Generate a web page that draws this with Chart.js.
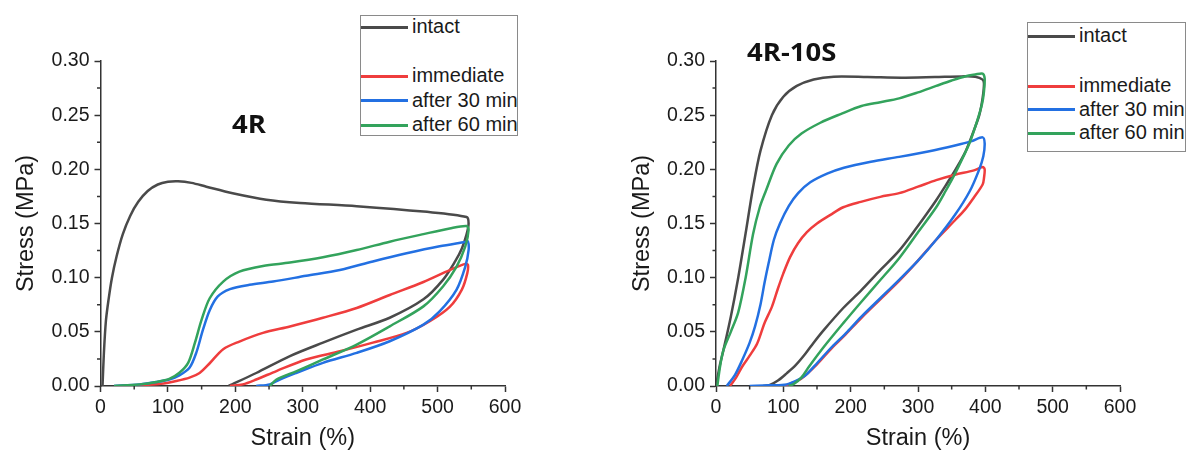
<!DOCTYPE html>
<html>
<head>
<meta charset="utf-8">
<script src="https://cdn.jsdelivr.net/npm/chart.js@4.4.1/dist/chart.umd.min.js"></script>
<style>
html,body{margin:0;padding:0;background:#fff;}
#wrap{position:relative;width:1186px;height:450px;overflow:hidden;font-family:"Liberation Sans",Arial,sans-serif;}
canvas{position:absolute;top:0;}
.ptitle{position:absolute;font-family:"Open Sans",sans-serif;font-weight:700;font-size:25px;line-height:1;color:#111;transform:scaleX(1.1);transform-origin:left top;white-space:nowrap;}
.legend{position:absolute;border:1px solid #8a8a8a;background:#fff;box-sizing:border-box;overflow:hidden;}
.row{position:absolute;left:0;height:0;width:100%;}
.row .ln{position:absolute;left:0;width:47px;height:3px;top:-1.5px;}
.row .tx{position:absolute;left:51px;top:-13px;font-size:20px;line-height:24px;white-space:nowrap;color:#1a1a1a;}
</style>
</head>
<body>
<div id="wrap">
  <canvas id="c1" width="593" height="450" style="left:0px"></canvas>
  <canvas id="c2" width="593" height="450" style="left:593px"></canvas>
  <div class="ptitle" style="left:232px;top:111px">4R</div>
  <div class="ptitle" style="left:747px;top:39px">4R-10S</div>
  <div class="legend" id="lg1" style="left:360px;top:15px;width:158px;height:121px"></div>
  <div class="legend" id="lg2" style="left:1027px;top:22px;width:159px;height:130px"></div>
</div>
<script>
// ---------- labels / ticks ----------
const seriesNames  = ["intact", "immediate", "after 30 min", "after 60 min"];
const seriesColors = ["#4a4a4a", "#ef3d3d", "#2370e2", "#33a35c"];
const panelTitles  = ["4R", "4R-10S"];
const xTicks = [0, 100, 200, 300, 400, 500, 600];
const yTicks = [0.00, 0.05, 0.10, 0.15, 0.20, 0.25, 0.30];
const xMinor = [50, 150, 250, 350, 450, 550];
const yMinor = [0.025, 0.075, 0.125, 0.175, 0.225, 0.275];

// ---------- panel 4R ----------
const r4_intact_x = [3, 5, 8, 12, 17, 24, 33, 44, 56, 70, 85, 100, 115, 135, 157, 196, 246, 296, 380, 479, 543, 546, 543, 536, 526, 508, 479, 429, 380, 330, 281, 231, 190];
const r4_intact_y = [0, 0.03, 0.06, 0.08, 0.10, 0.12, 0.14, 0.157, 0.170, 0.180, 0.186, 0.1885, 0.189, 0.1875, 0.184, 0.178, 0.172, 0.169, 0.166, 0.161, 0.156, 0.150, 0.140, 0.127, 0.115, 0.098, 0.080, 0.063, 0.052, 0.040, 0.0276, 0.012, 0];
const r4_imm_x = [30, 60, 90, 112, 132, 147, 162, 182, 206, 241, 281, 330, 380, 429, 479, 518, 541, 545, 544, 536, 518, 489, 454, 404, 355, 305, 261, 231, 211, 192];
const r4_imm_y = [0, 0.0008, 0.002, 0.0046, 0.0077, 0.012, 0.021, 0.034, 0.041, 0.049, 0.055, 0.063, 0.072, 0.084, 0.096, 0.107, 0.1127, 0.112, 0.104, 0.089, 0.073, 0.060, 0.049, 0.040, 0.032, 0.0245, 0.0138, 0.006, 0.0015, 0];
const r4_a30_x = [20, 58, 83, 102, 117, 132, 142, 152, 162, 174, 192, 221, 256, 305, 355, 404, 454, 503, 541, 545, 546, 541, 528, 503, 479, 429, 380, 330, 291, 266, 251, 231];
const r4_a30_y = [0, 0.0015, 0.0037, 0.006, 0.0098, 0.0168, 0.0306, 0.052, 0.070, 0.0827, 0.0894, 0.0934, 0.0964, 0.1017, 0.107, 0.115, 0.1225, 0.129, 0.133, 0.1335, 0.1255, 0.110, 0.0888, 0.0689, 0.0566, 0.0413, 0.0306, 0.0214, 0.0122, 0.006, 0.0015, 0];
const r4_a60_x = [20, 58, 83, 102, 117, 130, 140, 150, 162, 182, 206, 241, 281, 330, 380, 429, 479, 518, 543, 546, 541, 528, 508, 479, 429, 380, 330, 291, 261, 251];
const r4_a60_y = [0, 0.0015, 0.0037, 0.0065, 0.0122, 0.0214, 0.0398, 0.0612, 0.081, 0.0964, 0.1056, 0.1108, 0.1139, 0.1188, 0.1255, 0.1332, 0.1402, 0.1454, 0.1476, 0.144, 0.1286, 0.110, 0.0919, 0.0735, 0.0551, 0.0383, 0.0245, 0.0138, 0.006, 0];

// ---------- panel 4R-10S ----------
const s10_intact_x = [0, 6, 11, 22, 33, 44, 55, 66, 83, 100, 120, 145, 175, 225, 275, 325, 365, 385, 396, 398, 396, 391, 383, 371, 355, 341, 327, 313, 299, 272, 244, 216, 189, 160, 145, 133, 118, 105, 92, 80, 70];
const s10_intact_y = [0, 0.02, 0.033, 0.064, 0.100, 0.141, 0.183, 0.217, 0.250, 0.267, 0.277, 0.283, 0.2855, 0.2852, 0.2846, 0.2852, 0.2858, 0.2855, 0.2828, 0.279, 0.266, 0.250, 0.236, 0.217, 0.199, 0.185, 0.1715, 0.159, 0.147, 0.125, 0.107, 0.0885, 0.072, 0.0516, 0.040, 0.030, 0.019, 0.0117, 0.005, 0.001, 0];
const s10_imm_x = [21, 30, 39, 50, 61, 72, 83, 92, 100, 110, 122, 135, 150, 170, 189, 215, 244, 272, 300, 327, 355, 383, 396, 399, 398, 396, 383, 370, 355, 327, 299, 272, 244, 216, 190, 172, 150, 127, 110, 100];
const s10_imm_y = [0, 0.008, 0.018, 0.028, 0.039, 0.058, 0.073, 0.09, 0.104, 0.119, 0.132, 0.142, 0.150, 0.158, 0.165, 0.170, 0.1746, 0.178, 0.184, 0.190, 0.195, 0.199, 0.2022, 0.2, 0.192, 0.186, 0.174, 0.163, 0.153, 0.135, 0.115, 0.097, 0.080, 0.063, 0.046, 0.035, 0.020, 0.007, 0.002, 0];
const s10_a30_x = [16, 28, 39, 50, 58, 66, 72, 78, 86, 95, 108, 122, 140, 165, 190, 230, 272, 315, 355, 380, 396, 399, 397, 391, 377, 355, 327, 299, 272, 244, 216, 195, 172, 150, 135, 127, 105, 80, 50];
const s10_a30_y = [0, 0.010, 0.024, 0.040, 0.055, 0.075, 0.095, 0.113, 0.135, 0.150, 0.166, 0.178, 0.188, 0.196, 0.2015, 0.207, 0.2115, 0.2165, 0.222, 0.226, 0.2295, 0.224, 0.212, 0.2, 0.18, 0.158, 0.135, 0.115, 0.098, 0.081, 0.064, 0.050, 0.036, 0.021, 0.011, 0.0074, 0.0015, 0.0006, 0];
const s10_a60_x = [2, 6, 11, 22, 33, 44, 55, 65, 74, 90, 108, 127, 155, 185, 216, 244, 272, 300, 327, 350, 371, 385, 396, 399, 398, 395, 388, 377, 366, 355, 341, 327, 299, 272, 244, 216, 189, 160, 138, 127, 116, 108];
const s10_a60_y = [0, 0.018, 0.033, 0.050, 0.068, 0.100, 0.140, 0.165, 0.180, 0.205, 0.222, 0.233, 0.243, 0.251, 0.2585, 0.262, 0.2655, 0.271, 0.277, 0.282, 0.286, 0.2875, 0.2884, 0.284, 0.272, 0.260, 0.245, 0.225, 0.210, 0.196, 0.180, 0.165, 0.141, 0.118, 0.0978, 0.0778, 0.058, 0.036, 0.0178, 0.008, 0.002, 0];

function pts(xs, ys){ return xs.map((x,i)=>({x:x, y:ys[i]})); }

const FONT = '"Liberation Sans", Arial, sans-serif';
Chart.defaults.font.family = FONT;
Chart.defaults.color = '#1a1a1a';

const minorTicks = {
  id: 'minorTicks',
  afterDraw(chart){
    const {ctx, scales:{x, y}} = chart;
    ctx.save();
    ctx.strokeStyle = '#333';
    ctx.lineWidth = 1.5;
    ctx.beginPath();
    xMinor.forEach(v => { const px = x.getPixelForValue(v); ctx.moveTo(px, y.bottom); ctx.lineTo(px, y.bottom + 3.5); });
    yMinor.forEach(v => { const py = y.getPixelForValue(v); ctx.moveTo(x.left, py); ctx.lineTo(x.left - 3.5, py); });
    ctx.stroke();
    ctx.restore();
  }
};

function makeDatasets(series){
  return series.map((s, i) => ({
    label: seriesNames[i],
    data: pts(s[0], s[1]),
    borderColor: seriesColors[i],
    backgroundColor: seriesColors[i],
    showLine: true,
    fill: false,
    pointRadius: 0,
    borderWidth: 2.5,
    tension: 0.3,
    order: 3 - i
  }));
}

function makeChart(id, series, padLeft, padRight){
  return new Chart(document.getElementById(id), {
    type: 'scatter',
    data: { datasets: makeDatasets(series) },
    options: {
      responsive: false,
      animation: false,
      devicePixelRatio: 1,
      layout: { padding: { left: padLeft, right: padRight, top: 61, bottom: 0 } },
      plugins: { legend: { display: false }, tooltip: { enabled: false } },
      scales: {
        x: {
          type: 'linear', min: xTicks[0], max: xTicks[xTicks.length-1],
          afterBuildTicks(s){ s.ticks = xTicks.map(v => ({value: v})); },
          ticks: { color: '#1a1a1a', font: { size: 19.5 }, padding: 4, maxRotation: 0, autoSkip: false, callback: v => String(v) },
          grid: { drawOnChartArea: false, tickLength: 6, tickColor: '#333', tickWidth: 1.5 },
          border: { color: '#333', width: 1.5 },
          title: { display: true, text: 'Strain (%)', color: '#1a1a1a', font: { size: 23.5, lineHeight: 1.0 }, padding: 0 },
          afterFit(s){ s.height = 64; s.paddingLeft = 0; s.paddingRight = 0; }
        },
        y: {
          type: 'linear', min: yTicks[0], max: yTicks[yTicks.length-1],
          afterBuildTicks(s){ s.ticks = yTicks.map(v => ({value: v})); },
          ticks: { color: '#1a1a1a', font: { size: 19.5 }, padding: 5, autoSkip: false, callback: v => Number(v).toFixed(2) },
          grid: { drawOnChartArea: false, tickLength: 6, tickColor: '#333', tickWidth: 1.5 },
          border: { color: '#333', width: 1.5 },
          title: { display: true, text: 'Stress (MPa)', color: '#1a1a1a', font: { size: 23.5, lineHeight: 1.0 }, padding: { top: 15, bottom: 0 } },
          afterFit(s){ s.width = 100.5; s.paddingTop = 0; s.paddingBottom = 0; }
        }
      }
    },
    plugins: [minorTicks]
  });
}

makeChart('c1', [[r4_intact_x, r4_intact_y], [r4_imm_x, r4_imm_y], [r4_a30_x, r4_a30_y], [r4_a60_x, r4_a60_y]], 0, 88);
makeChart('c2', [[s10_intact_x, s10_intact_y], [s10_imm_x, s10_imm_y], [s10_a30_x, s10_a30_y], [s10_a60_x, s10_a60_y]], 22.5, 66);

function buildLegend(id, rowTops){
  const box = document.getElementById(id);
  // legend has a blank slot after "intact"
  const slots = [0, 2, 3, 4];
  seriesNames.forEach((name, i) => {
    const row = document.createElement('div');
    row.className = 'row';
    row.style.top = rowTops[slots[i]] + 'px';
    const ln = document.createElement('div');
    ln.className = 'ln';
    ln.style.background = seriesColors[i];
    const tx = document.createElement('div');
    tx.className = 'tx';
    tx.textContent = name;
    row.appendChild(ln); row.appendChild(tx);
    box.appendChild(row);
  });
}
buildLegend('lg1', [11, 35.5, 60, 84.5, 109]);
buildLegend('lg2', [13, 38, 63, 86.5, 110]);
</script>
</body>
</html>
